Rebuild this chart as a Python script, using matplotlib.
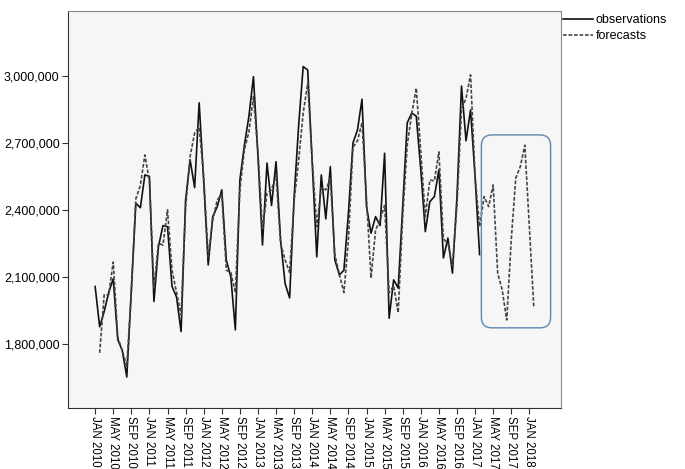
import matplotlib
matplotlib.use("Agg")
import matplotlib.pyplot as plt
from matplotlib.patches import FancyBboxPatch
import numpy as np

plt.rcParams['font.family'] = ['Liberation Sans', 'DejaVu Sans']

# monthly series starting JAN 2010, values in millions
observations = [
    2.057, 1.877, 1.945, 2.030, 2.092, 1.820, 1.770, 1.652, 2.040, 2.430, 2.410, 2.557,
    2.550, 1.990, 2.236, 2.330, 2.325, 2.057, 2.010, 1.855, 2.445, 2.624, 2.500, 2.880,
    2.530, 2.154, 2.370, 2.415, 2.490, 2.176, 2.100, 1.863, 2.534, 2.690, 2.820, 2.997,
    2.640, 2.243, 2.610, 2.420, 2.616, 2.266, 2.070, 2.006, 2.460, 2.780, 3.042, 3.027,
    2.610, 2.190, 2.557, 2.360, 2.594, 2.176, 2.109, 2.130, 2.386, 2.700, 2.758, 2.896,
    2.415, 2.296, 2.370, 2.330, 2.654, 1.915, 2.087, 2.050, 2.415, 2.790, 2.834, 2.820,
    2.580, 2.303, 2.437, 2.460, 2.580, 2.185, 2.274, 2.117, 2.460, 2.955, 2.710, 2.848,
    2.550, 2.200,
]

# forecasts start FEB 2010, run to FEB 2018
forecasts = [
    1.760, 2.020, 2.020, 2.167, 1.830, 1.770, 1.700, 2.030, 2.450, 2.510, 2.646,
    2.530, 2.050, 2.250, 2.243, 2.400, 2.130, 2.030, 1.930, 2.410, 2.640, 2.745, 2.770,
    2.550, 2.190, 2.355, 2.445, 2.470, 2.130, 2.120, 2.030, 2.490, 2.670, 2.750, 2.907,
    2.660, 2.310, 2.475, 2.490, 2.557, 2.250, 2.176, 2.120, 2.440, 2.624, 2.834, 2.968,
    2.620, 2.325, 2.500, 2.490, 2.540, 2.200, 2.110, 2.030, 2.266, 2.680, 2.710, 2.790,
    2.450, 2.095, 2.310, 2.355, 2.420, 2.030, 2.060, 1.940, 2.370, 2.690, 2.830, 2.946,
    2.660, 2.370, 2.534, 2.530, 2.660, 2.270, 2.250, 2.150, 2.420, 2.850, 2.900, 3.005,
    2.550, 2.325, 2.460, 2.415, 2.512, 2.117, 2.042, 1.907, 2.266, 2.543, 2.594, 2.690,
    2.325, 1.960,
]

months = ['JAN', 'FEB', 'MAR', 'APR', 'MAY', 'JUN', 'JUL', 'AUG', 'SEP', 'OCT', 'NOV', 'DEC']
yticks = [1800000, 2100000, 2400000, 2700000, 3000000]

obs = np.array(observations) * 1e6
fc = np.array(forecasts) * 1e6
x_obs = np.arange(len(obs))
x_fc = np.arange(1, 1 + len(fc))

fig = plt.figure(figsize=(6.85, 4.69), dpi=100)
ax = fig.add_axes([68 / 685, 1 - 408 / 469, 493 / 685, 397 / 469])
ax.set_facecolor('#f6f6f6')

ax.plot(x_obs, obs, color='#111111', lw=1.2, label='observations', zorder=3)
ax.plot(x_fc, fc, color='#444444', lw=1.2, ls=(0, (2.2, 1.1)), label='forecasts', zorder=3)

# highlight the forecast-only period
box = FancyBboxPatch((85.4, 1.872e6), 15.3, 0.864e6,
                     boxstyle="round,pad=0,rounding_size=2.3",
                     mutation_aspect=20350, fc='none', ec='#5b87b0', lw=1.0, zorder=4)
ax.add_patch(box)

ax.set_xlim(-6, 103)
ax.set_ylim(1.513e6, 3.291e6)

xt = np.arange(0, 97, 4)
ax.set_xticks(xt)
ax.set_xticklabels([f"{months[i % 12]} {2010 + i // 12}" for i in xt], rotation=270, fontsize=8.3)
ax.set_yticks(yticks)
ax.set_yticklabels([f"{v:,}" for v in yticks], fontsize=9)
ax.tick_params(direction='out', length=4, width=0.8, color='#333333', pad=2)

for s in ['left', 'bottom']:
    ax.spines[s].set_color('#333333')
for s in ['top', 'right']:
    ax.spines[s].set_color('#888888')

ax.legend(loc='upper left', bbox_to_anchor=(1.004, 0.992), frameon=False, fontsize=9,
          handlelength=2.4, handletextpad=0.2, borderaxespad=0, borderpad=0,
          labelspacing=0.3)

fig.savefig('out.png', dpi=100)
